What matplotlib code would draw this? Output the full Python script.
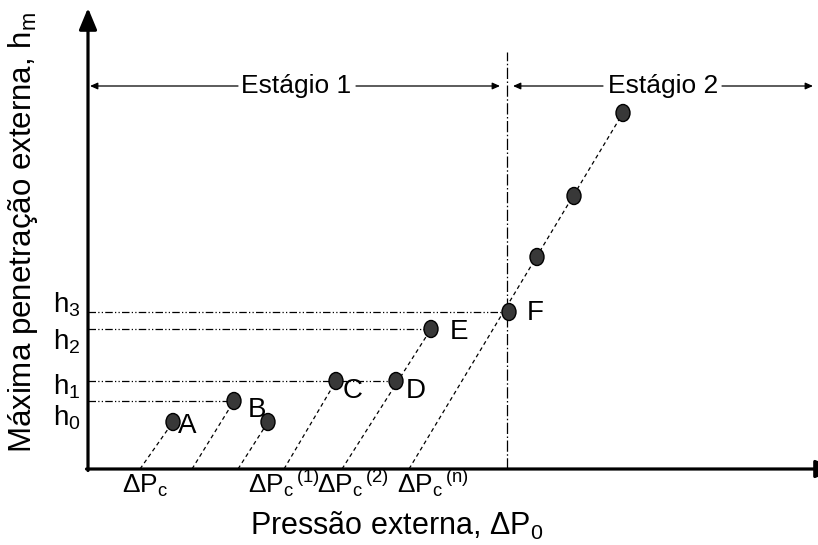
import matplotlib
matplotlib.use("Agg")
import matplotlib.pyplot as plt
from matplotlib.patches import Ellipse

plt.rcParams["font.family"] = ["Liberation Sans", "DejaVu Sans"]
plt.rcParams["mathtext.fontset"] = "custom"
plt.rcParams["mathtext.rm"] = "Liberation Sans"
plt.rcParams["mathtext.it"] = "Liberation Sans:italic"

# Measured points (pressure, maximum penetration) in plot units
point_names = ["A", "B", "", "C", "D", "E", "F", "", "", ""]
point_x = [85, 146, 180, 248, 308, 343, 421, 449, 486, 535]
point_y = [47, 68, 47, 88, 88, 140, 157, 212, 273, 356]

# Critical pressures where each loading path starts on the pressure axis
path_start_x = [52, 104, 150, 196, 254, 321]
path_end_index = [0, 1, 2, 3, 5, 9]

# Penetration levels h0..h3 and the point each reference line runs to
level_names = ["h$_0$", "h$_1$", "h$_2$", "h$_3$"]
level_point_index = [1, 4, 5, 6]
level_label_y = [51, 82, 127, 164]

# Pressure axis labels
dp_labels = [r"ΔP$_\mathrm{c}$", r"ΔP$_\mathrm{c}$$^{\,\mathrm{(1)}}$",
             r"ΔP$_\mathrm{c}$$^{\,\mathrm{(2)}}$", r"ΔP$_\mathrm{c}$$^{\,\mathrm{(n)}}$"]
dp_label_x = [34, 160, 229, 309]

stage_boundary = 419
stage_names = ["Estágio 1", "Estágio 2"]
stage_label_x = [208, 575]
stage_y = 383

W, H = 818, 545
fig = plt.figure(figsize=(W / 100, H / 100), dpi=100)
x0, y0 = 88, 469
ax = fig.add_axes([x0 / W, (H - y0) / H, (W - x0) / W, (y0 - 10) / H])
ax.set_xlim(0, W - x0)
ax.set_ylim(0, y0 - 10)
ax.axis("off")

# Axes with arrowheads
head = "-|>,head_length=0.65,head_width=0.27"
ax.annotate("", xy=(0, 461), xytext=(0, -1.5),
            arrowprops=dict(arrowstyle=head, lw=2.3, color="black",
                            mutation_scale=20, shrinkA=0, shrinkB=0),
            annotation_clip=False)
ax.annotate("", xy=(749, 0), xytext=(-1.5, 0),
            arrowprops=dict(arrowstyle=head, lw=2.3, color="black",
                            mutation_scale=20, shrinkA=0, shrinkB=0),
            annotation_clip=False)

# Loading paths (dashed)
for sx, idx in zip(path_start_x, path_end_index):
    ax.plot([sx, point_x[idx]], [0, point_y[idx]], color="black", lw=0.9,
            linestyle=(0, (3.2, 2.6)), zorder=2)

# Penetration levels (dash-dot-dot)
for name, idx, ly in zip(level_names, level_point_index, level_label_y):
    ax.plot([0, point_x[idx]], [point_y[idx], point_y[idx]], color="black",
            lw=0.9, linestyle=(0, (6, 1.8, 1, 1.8, 1, 1.8)), zorder=2)
    ax.text(-7, ly, name, ha="right", va="center", fontsize=20)

# Stage boundary (dash-dot)
ax.plot([stage_boundary, stage_boundary], [0, 417], color="black", lw=0.9,
        linestyle=(0, (9, 2, 1.2, 2)), zorder=2)

# Stage annotations with arrows
for name, sx in zip(stage_names, stage_label_x):
    ax.text(sx, stage_y, name, ha="center", va="center", fontsize=19)
arrow_kw = dict(arrowstyle="-|>,head_length=0.45,head_width=0.2", lw=0.9,
                color="black", mutation_scale=10, shrinkA=0, shrinkB=0)
stage_arrows = [((150, stage_y), (2, stage_y)), ((268, stage_y), (412, stage_y)),
                ((515, stage_y), (425, stage_y)), ((634, stage_y), (725, stage_y))]
for start, end in stage_arrows:
    ax.annotate("", xy=end, xytext=start, arrowprops=arrow_kw,
                annotation_clip=False)

# Data points
for px, py in zip(point_x, point_y):
    ax.add_patch(Ellipse((px, py), 14, 17, facecolor="#383838",
                         edgecolor="black", lw=1, zorder=4))

# Point letters, placed beside their points
letter_dx = {"A": 5, "B": 14, "C": 7, "D": 10, "E": 19, "F": 18}
letter_dy = {"A": -1, "B": -6, "C": -7, "D": -7, "E": 0, "F": 2}
for name, px, py in zip(point_names, point_x, point_y):
    if name:
        ax.text(px + letter_dx[name], py + letter_dy[name] - 10, name,
                ha="left", va="baseline", fontsize=20, zorder=5)

# Pressure axis labels
for lab, lx in zip(dp_labels, dp_label_x):
    ax.text(lx, -24, lab, ha="left", va="baseline", fontsize=19)

fig.text(397 / W, 1 - 526 / H, "Pressão externa, ΔP$_0$", ha="center",
         va="center", fontsize=22)
fig.text(23 / W, 1 - 232 / H, "Máxima penetração externa, h$_\\mathrm{m}$",
         ha="center", va="center", rotation=90, fontsize=22.5)

fig.savefig("out.png", dpi=100)
